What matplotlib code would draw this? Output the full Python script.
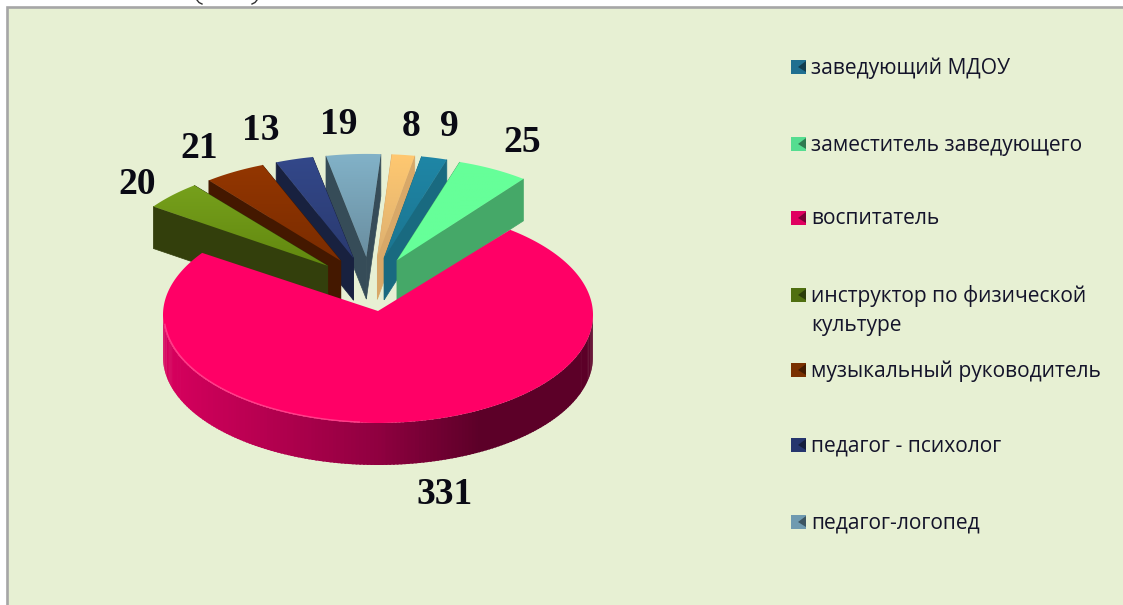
import numpy as np
import matplotlib
matplotlib.use("Agg")
import matplotlib.pyplot as plt
from matplotlib.patches import Polygon, Rectangle
from matplotlib.colors import LinearSegmentedColormap, to_rgb

# ---- data ----
categories = ["заведующий МДОУ", "заместитель заведующего", "воспитатель",
              "инструктор по физической\nкультуре", "музыкальный руководитель",
              "педагог - психолог", "педагог-логопед", ""]
values = [9, 25, 331, 20, 21, 13, 19, 8]
value_labels = ["9", "25", "331", "20", "21", "13", "19", "8"]

# ---- styles ----
top_hi = ["#1F86A6", "#66FF99", "#FF0066", "#76A01C", "#933600", "#33488A", "#82B2C8", "#FFC870"]
top_lo = ["#1B7590", "#66FF99", "#FF0066", "#62880F", "#7A2C00", "#2A3A70", "#6A8EA0", "#DDB070"]
side = ["#196A80", "#45A868", "#900040", "#333F0C", "#441800", "#18213F", "#364C58", "#D8A868"]
legend_colors = ["#1F6F90", "#55DD90", "#E00060", "#4F6F10", "#7A3000", "#26366E", "#6F9AB0"]
legend_y = [67, 144, 218, 295, 370, 445, 522]
label_xy = [(449, 126), (522, 142), (445, 494), (137, 184), (199, 149), (261, 131), (339, 125), (411, 126)]

BG = "#E7F0D3"
CX, CY, RX, RY, DEPTH = 378, 315, 215, 108, 42
START = 79.5
R_EXPL = 0.955

fig = plt.figure(figsize=(11.23, 6.05), dpi=100, facecolor="white")
ax = fig.add_axes([0, 0, 1, 1])
ax.set_xlim(0, 1123)
ax.set_ylim(605, 0)
ax.axis("off")

ax.add_patch(Rectangle((7, 7), 1130, 610, facecolor=BG, edgecolor="none", zorder=0))
ax.plot([7, 7, 1123], [605, 7, 7], color="#A6A6A6", lw=1.9, solid_joinstyle="miter", zorder=0.5)

# ink remnants of the caption cropped off above the chart
ax.plot([197, 199, 202], [0, 2.5, 4], color="#333333", lw=1.0, zorder=6)
ax.plot([257, 255, 252], [0, 2.5, 4], color="#333333", lw=1.0, zorder=6)


def pts(a0, a1, ox, oy, rx=1.0, ry=1.0, n=40):
    t = np.radians(np.linspace(a0, a1, n))
    return np.column_stack([ox + rx * RX * np.cos(t), oy - ry * RY * np.sin(t)])


def grad_fill(poly, c_hi, c_lo, z):
    patch = Polygon(poly, closed=True, facecolor="none", edgecolor="none", zorder=z)
    ax.add_patch(patch)
    cm = LinearSegmentedColormap.from_list("g", [c_hi, c_lo])
    y0, y1 = poly[:, 1].min(), poly[:, 1].max()
    x0, x1 = poly[:, 0].min(), poly[:, 0].max()
    im = ax.imshow(np.linspace(0, 1, 64)[:, None], cmap=cm, extent=[x0, x1, y1, y0],
                   aspect="auto", zorder=z, interpolation="bilinear")
    im.set_clip_path(patch)


spans = np.array(values) / sum(values) * 360
ends = START - np.cumsum(spans)
starts = ends + spans

# exploded slices: the centre ones lie behind the outer ones
draw_order = [6, 5, 4, 3, 7, 0, 1]
for z, i in enumerate(draw_order):
    a0, a1 = starts[i], ends[i]
    mid = np.radians((a0 + a1) / 2)
    ax_x = CX - 8 + 58 * np.cos(mid)
    ax_y = CY - 30 - 28 * np.sin(mid)
    rx = R_EXPL - 0.05 * min(np.cos(mid), 0)
    arc = pts(a0, a1, ax_x, ax_y, rx, R_EXPL)
    apex = np.array([ax_x, ax_y])
    down = np.array([0, DEPTH])
    for edge in (arc[0], arc[-1]):
        face = np.array([apex, edge, edge + down, apex + down])
        ax.add_patch(Polygon(face, closed=True, facecolor=side[i], edgecolor=side[i],
                             linewidth=0.5, zorder=2 + z * 0.1))
    grad_fill(np.vstack([apex, arc]), top_hi[i], top_lo[i], 2.05 + z * 0.1)

# main slice: rim first, then the top
i = 2
rim_cm = LinearSegmentedColormap.from_list(
    "rim", [(0, "#D8005E"), (0.5, "#900040"), (0.74, "#5C0028"), (1, "#5C0028")])
for t in np.arange(180, 360, 1.0):
    seg = pts(t, t + 1.5, CX, CY, n=3)
    strip = np.vstack([seg, seg[::-1] + [0, DEPTH]])
    frac = (seg[1, 0] - (CX - RX)) / (2 * RX)
    ax.add_patch(Polygon(strip, closed=True, facecolor=rim_cm(frac), edgecolor="none", zorder=3))
apex_main = np.array([378, 311])
arc_main = pts(starts[i], ends[i], CX, CY, n=240)
ax.add_patch(Polygon(np.vstack([apex_main, arc_main]), closed=True, facecolor=top_hi[i],
                     edgecolor="none", zorder=3.2))
# bright bevel along the lower-left rim
bevel = pts(185, 265, CX, CY, 0.995, 0.995, n=60)
ax.plot(bevel[:, 0], bevel[:, 1], color="#FF3D8A", lw=1.0, zorder=3.3)

# value labels
for txt, (x, y) in zip(value_labels, label_xy):
    ax.text(x, y, txt, fontfamily="Liberation Serif", fontweight="bold", fontsize=27,
            color="#0A0A14", ha="center", va="center", zorder=5)

# legend
for name, col, y in zip(categories, legend_colors, legend_y):
    c = np.array(to_rgb(col))
    ax.add_patch(Rectangle((791, y - 7), 15, 14, facecolor=col, edgecolor="none", zorder=5))
    ax.add_patch(Polygon([(806, y - 6), (806, y + 5), (798, y)], closed=True,
                         facecolor=c * 0.55, edgecolor="none", zorder=5.1))
    for k, line in enumerate(name.split("\n")):
        ax.text(811, y + 1 + k * 30, line, fontfamily="Open Sans", fontsize=15.1, color="#14142A",
                ha="left", va="center", zorder=5)

fig.savefig("out.png", dpi=100, facecolor="white")
